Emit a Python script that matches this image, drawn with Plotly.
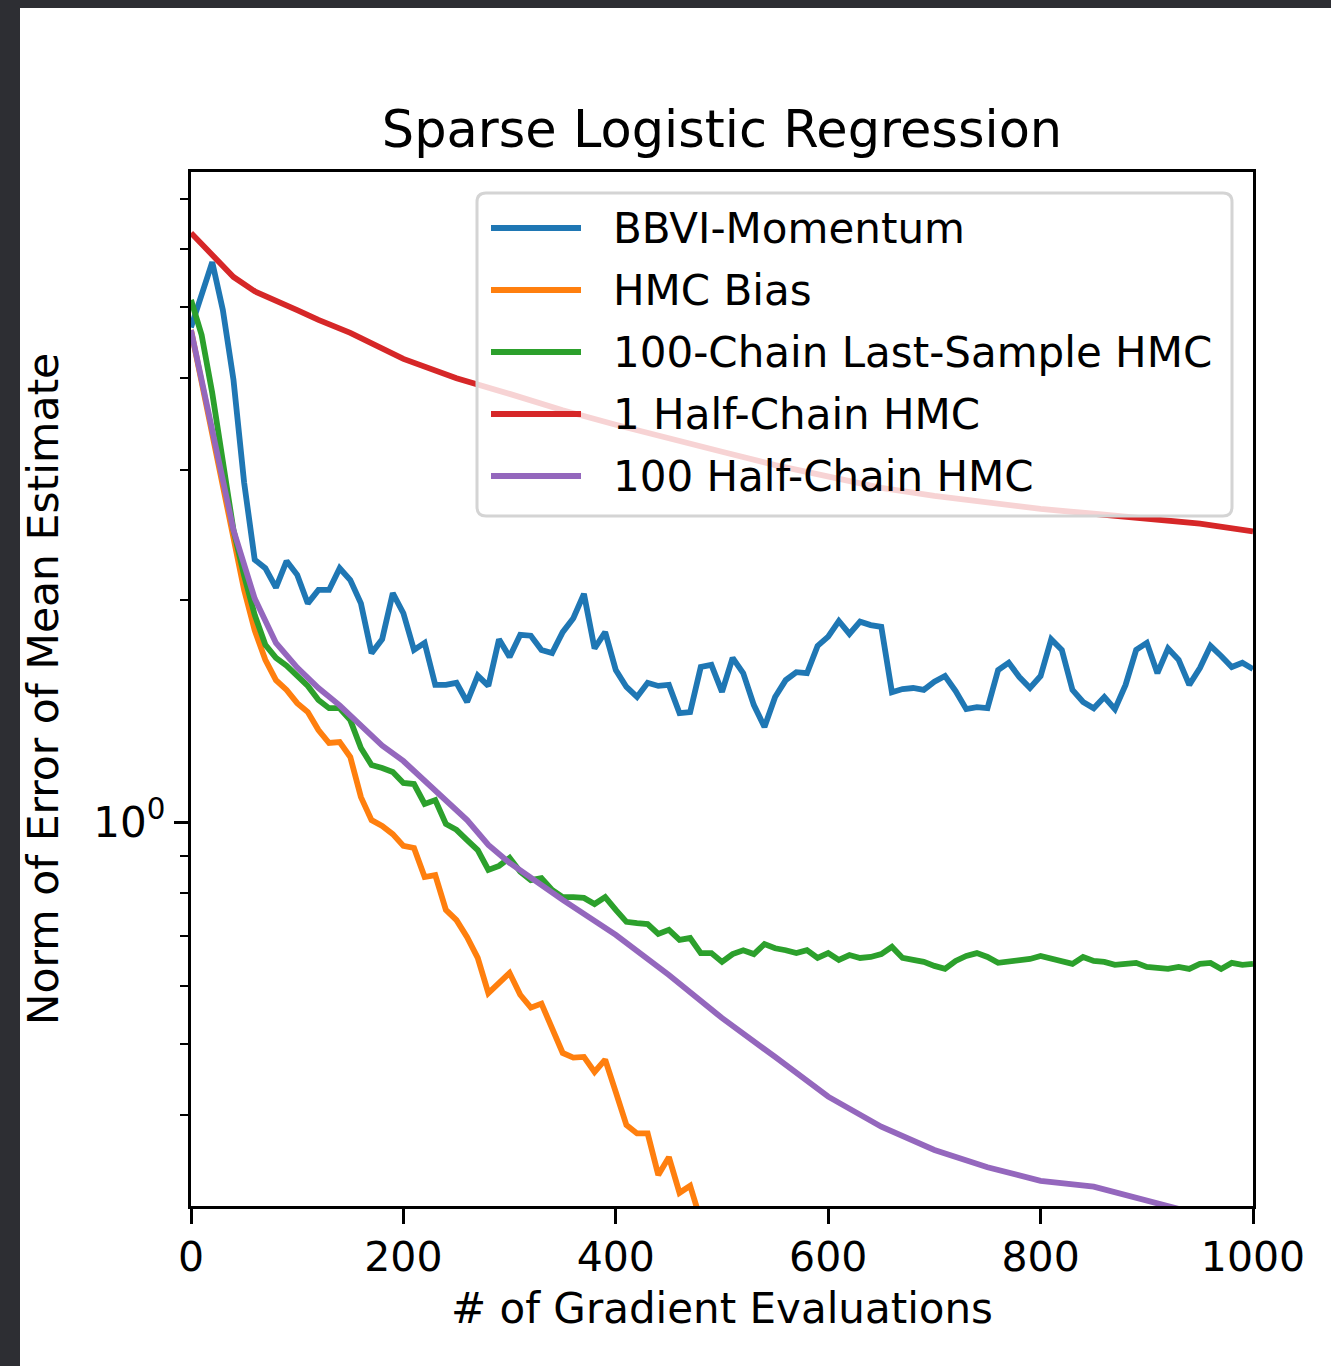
import plotly.graph_objects as go

# ---------------- data ----------------
grid = list(range(0, 1001, 10))

bbvi_momentum = [4.69, 5.22, 5.75, 4.95, 3.98, 2.89, 2.27, 2.21, 2.08, 2.26,
                 2.165, 1.98, 2.065, 2.065, 2.21, 2.13, 1.98, 1.695, 1.77, 2.045,
                 1.92, 1.712, 1.75, 1.535, 1.535, 1.545, 1.455, 1.58, 1.53, 1.77,
                 1.675, 1.795, 1.79, 1.712, 1.695, 1.81, 1.89, 2.04, 1.72, 1.81,
                 1.608, 1.525, 1.478, 1.545, 1.53, 1.535, 1.405, 1.41, 1.623, 1.634,
                 1.502, 1.67, 1.592, 1.441, 1.346, 1.478, 1.558, 1.597, 1.592, 1.734,
                 1.785, 1.874, 1.80, 1.87, 1.85, 1.84, 1.50, 1.515, 1.52, 1.511,
                 1.55, 1.578, 1.506, 1.423, 1.432, 1.427, 1.608, 1.645, 1.573, 1.52,
                 1.578, 1.77, 1.712, 1.511, 1.455, 1.427, 1.478, 1.423, 1.535, 1.712,
                 1.75, 1.592, 1.72, 1.66, 1.535, 1.618, 1.734, 1.68, 1.623, 1.645,
                 1.613]

hmc_bias_x = list(range(0, 491, 10))
hmc_bias = [4.65, 3.95, 3.35, 2.88, 2.41, 2.065, 1.82, 1.66, 1.558, 1.511,
            1.45, 1.41, 1.333, 1.28, 1.284, 1.225, 1.081, 1.006, 0.988, 0.963,
            0.928, 0.922, 0.842, 0.847, 0.760, 0.736, 0.698, 0.654, 0.586, 0.605,
            0.624, 0.583, 0.560, 0.567, 0.522, 0.486, 0.479, 0.480, 0.458, 0.476,
            0.430, 0.388, 0.378, 0.378, 0.332, 0.351, 0.314, 0.321, 0.288, 0.280]

chain100_last = [5.11, 4.58, 3.82, 3.05, 2.49, 2.16, 1.91, 1.74, 1.67, 1.63,
                 1.58, 1.53, 1.464, 1.427, 1.427, 1.375, 1.26, 1.195, 1.184, 1.169,
                 1.13, 1.126, 1.058, 1.071, 0.994, 0.976, 0.945, 0.916, 0.861, 0.872,
                 0.894, 0.856, 0.834, 0.839, 0.809, 0.791, 0.791, 0.789, 0.774, 0.791,
                 0.760, 0.732, 0.729, 0.727, 0.705, 0.714, 0.692, 0.696, 0.664, 0.664,
                 0.646, 0.662, 0.670, 0.662, 0.683, 0.674, 0.670, 0.664, 0.670, 0.654,
                 0.664, 0.650, 0.660, 0.654, 0.656, 0.662, 0.677, 0.654, 0.650, 0.646,
                 0.638, 0.632, 0.648, 0.658, 0.664, 0.656, 0.644, 0.646, 0.650, 0.652,
                 0.658, 0.652, 0.646, 0.642, 0.656, 0.648, 0.646, 0.640, 0.642, 0.644,
                 0.636, 0.634, 0.632, 0.636, 0.632, 0.642, 0.644, 0.632, 0.644, 0.640,
                 0.642]

half1_x = [0, 20, 40, 60, 80, 100, 120, 150, 200, 250, 300, 350, 400, 450,
           500, 550, 600, 650, 700, 750, 800, 850, 900, 950, 1000]
half1 = [6.30, 5.88, 5.49, 5.25, 5.11, 4.95, 4.80, 4.61, 4.25, 4.00, 3.81, 3.62,
         3.46, 3.31, 3.18, 3.05, 2.94, 2.84, 2.77, 2.71, 2.66, 2.62, 2.58, 2.54, 2.48]

half100_x = [0, 10, 20, 30, 40, 60, 80, 100, 120, 140, 160, 180, 200, 220, 240,
             260, 280, 300, 350, 400, 450, 500, 550, 600, 650, 700, 750, 800,
             850, 880, 920, 950, 1000]
half100 = [4.65, 3.96, 3.37, 2.90, 2.49, 2.01, 1.75, 1.62, 1.52, 1.44, 1.35, 1.27,
           1.21, 1.14, 1.07, 1.006, 0.931, 0.880, 0.784, 0.703, 0.620, 0.542,
           0.480, 0.424, 0.386, 0.359, 0.340, 0.326, 0.320, 0.312, 0.301, 0.293, 0.281]

names = ["BBVI-Momentum", "HMC Bias", "100-Chain Last-Sample HMC",
         "1 Half-Chain HMC", "100 Half-Chain HMC"]
colors = ["#1f77b4", "#ff7f0e", "#2ca02c", "#d62728", "#9467bd"]

x_ticks = [0, 200, 400, 600, 800, 1000]
y_minor = [0.3, 0.4, 0.5, 0.6, 0.7, 0.8, 0.9, 2, 3, 4, 5, 6, 7]

series = [(grid, bbvi_momentum), (hmc_bias_x, hmc_bias), (grid, chain100_last),
          (half1_x, half1), (half100_x, half100)]

# ---------------- figure ----------------
FONT = "DejaVu Sans"
W, H = 1331, 1366
L, R, T, B = 191, 1253, 172, 1206
LW = 5.8

def px(x):
    return (x - L) / (R - L)

def py(y):
    return (B - y) / (B - T)

fig = go.Figure()
for (xs, ys), name, c in zip(series, names, colors):
    fig.add_trace(go.Scatter(x=xs, y=ys, mode="lines", name=name,
                             line=dict(color=c, width=LW), showlegend=False))

shapes = []
# screenshot background: white page on dark frame
shapes.append(dict(type="rect", xref="paper", yref="paper", layer="below",
                   x0=px(20), x1=px(W + 20), y0=py(H + 20), y1=py(8),
                   fillcolor="white", line=dict(width=0)))

# manual legend (matplotlib style): translucent white box over the lines
lx0, lx1, ly_top, ly_bot = px(477), px(1232), py(193), py(516)
shapes.append(dict(type="rect", xref="paper", yref="paper", layer="above",
                   x0=lx0, x1=lx1, y0=ly_bot, y1=ly_top, opacity=0.8,
                   fillcolor="white", line=dict(width=0)))
rx, ry = 9 / (R - L), 9 / (B - T)
path = (f"M {lx0+rx},{ly_top} L {lx1-rx},{ly_top} Q {lx1},{ly_top} {lx1},{ly_top-ry} "
        f"L {lx1},{ly_bot+ry} Q {lx1},{ly_bot} {lx1-rx},{ly_bot} "
        f"L {lx0+rx},{ly_bot} Q {lx0},{ly_bot} {lx0},{ly_bot+ry} "
        f"L {lx0},{ly_top-ry} Q {lx0},{ly_top} {lx0+rx},{ly_top} Z")
shapes.append(dict(type="path", xref="paper", yref="paper", layer="above", path=path,
                   fillcolor="rgba(255,255,255,0)",
                   line=dict(color="#d4d4d4", width=3)))
rows = [228, 290, 352, 414, 476]
annotations = []
for yrow, name, c in zip(rows, names, colors):
    shapes.append(dict(type="line", xref="paper", yref="paper", layer="above",
                       x0=px(491), x1=px(581), y0=py(yrow), y1=py(yrow),
                       line=dict(color=c, width=LW)))
    annotations.append(dict(xref="paper", yref="paper", x=px(611), y=py(yrow),
                            xanchor="left", yanchor="middle", showarrow=False,
                            text=name, font=dict(family=FONT, size=42, color="black")))

fig.update_layout(
    width=W, height=H,
    margin=dict(l=L, r=W - R, t=T, b=H - B, pad=0),
    paper_bgcolor="#2d2e33",
    plot_bgcolor="white",
    font=dict(family=FONT, color="black"),
    title=dict(text="Sparse Logistic Regression", x=px(722), xref="paper",
               xanchor="center", y=1 - 129 / H, yref="container", yanchor="middle",
               font=dict(family=FONT, size=51, color="black")),
    shapes=shapes,
    annotations=annotations,
    showlegend=False,
)

fig.update_xaxes(range=[0, 1000], showgrid=False, zeroline=False,
                 showline=True, mirror=True, linecolor="black", linewidth=3.2,
                 ticks="outside", ticklen=15, tickwidth=3.2, tickcolor="black",
                 tickvals=x_ticks, ticktext=[str(v) for v in x_ticks],
                 tickfont=dict(family=FONT, size=41, color="black"),
                 ticklabelstandoff=-2,
                 title=dict(text="# of Gradient Evaluations", standoff=14,
                            font=dict(family=FONT, size=42, color="black")))

fig.update_yaxes(type="log", range=[-0.521, 0.882], showgrid=False, zeroline=False,
                 showline=True, mirror=True, linecolor="black", linewidth=3.2,
                 ticks="outside", ticklen=14, tickwidth=3.2, tickcolor="black",
                 tickvals=[1], ticktext=["10<sup>0</sup>"],
                 tickfont=dict(family=FONT, size=42, color="black"),
                 minor=dict(ticks="outside", ticklen=8, tickwidth=2.4, tickcolor="black",
                            tickvals=y_minor, showgrid=False),
                 title=dict(text="Norm of Error of Mean Estimate", standoff=22,
                            font=dict(family=FONT, size=42.5, color="black")))

fig.write_html("out.html")
